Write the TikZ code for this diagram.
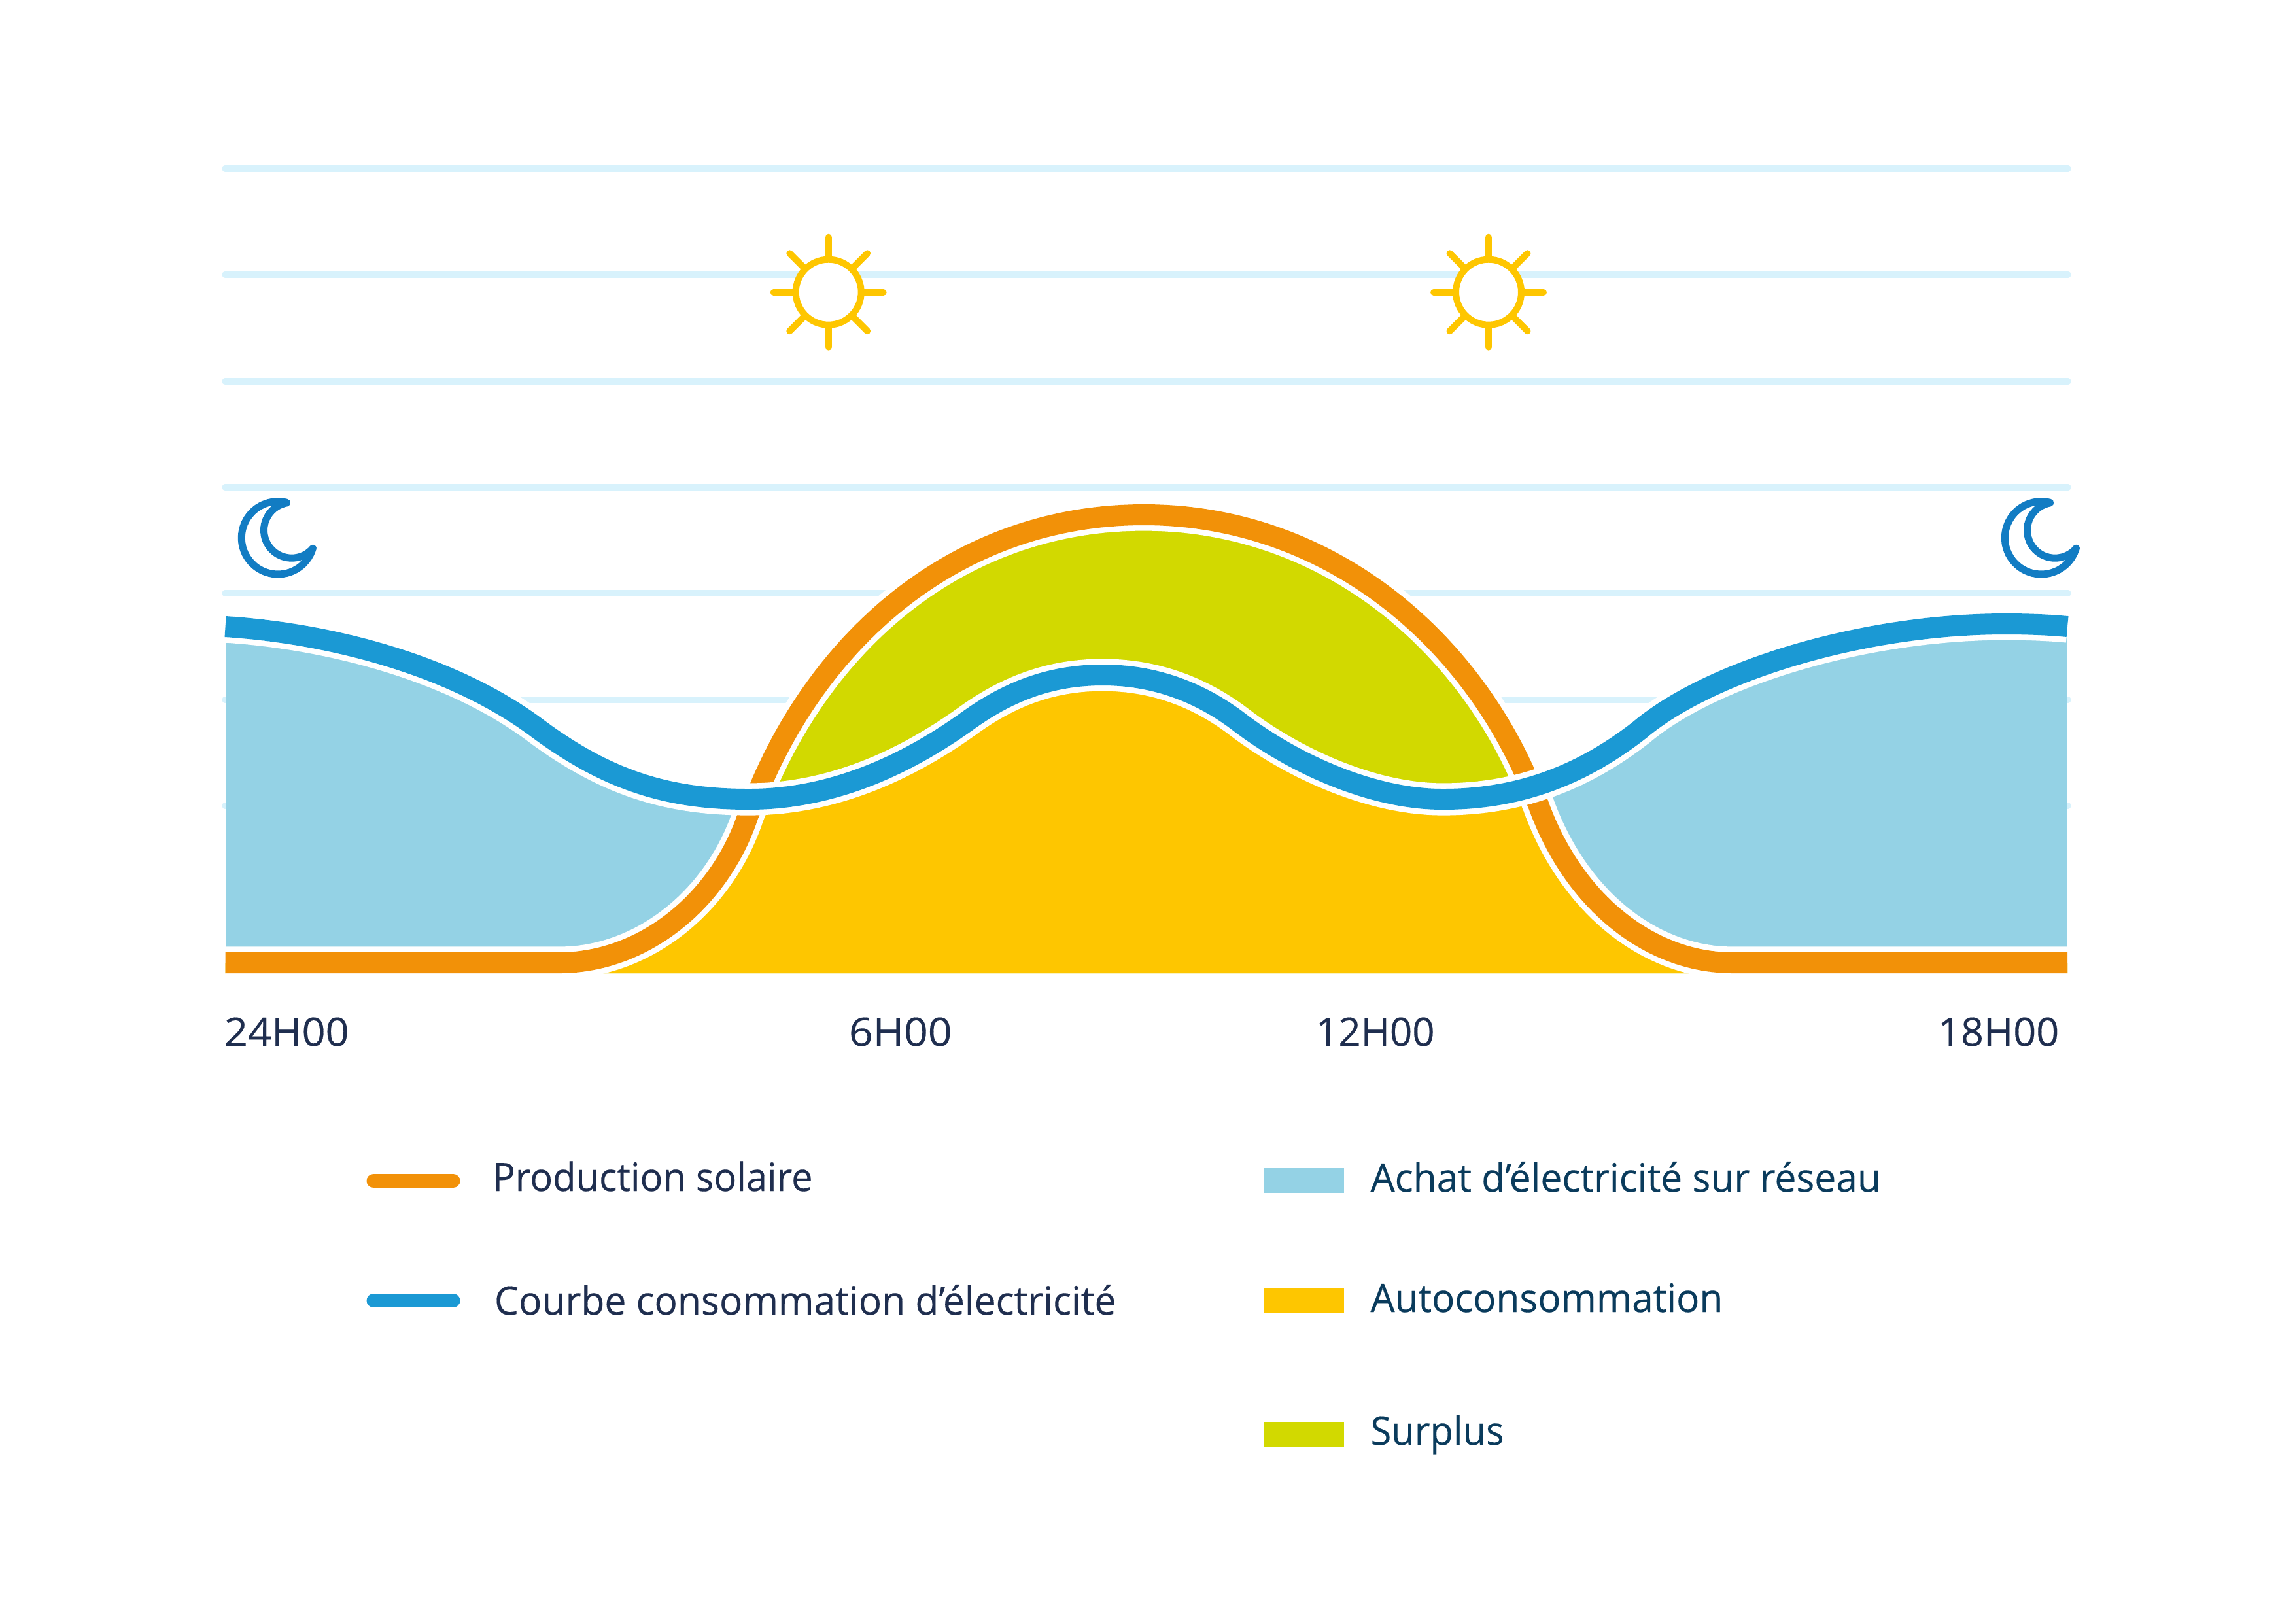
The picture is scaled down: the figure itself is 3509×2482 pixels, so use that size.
\documentclass[tikz,border=0pt]{standalone}
\usepackage{fontspec}
\setmainfont{Open Sans}[FakeBold=0.25]
\definecolor{cOrange}{HTML}{F29108}
\definecolor{cBlue}{HTML}{1B99D4}
\definecolor{cLight}{HTML}{94D2E5}
\definecolor{cYellow}{HTML}{FEC600}
\definecolor{cGreen}{HTML}{D2D900}
\definecolor{cGrid}{HTML}{D8F2FC}
\definecolor{cMoon}{HTML}{127CC3}
\definecolor{cText}{HTML}{1F2E4F}
\definecolor{cTextB}{HTML}{0A3B5C}
\def\orangecurve{(344.6,1472) -- (855,1472) .. controls (985,1472) and (1101,1376) .. (1144,1246) -- (1165,1196) .. controls (1269,957) and (1479,787) .. (1749,787) .. controls (2019,787) and (2238,962) .. (2338,1197) -- (2352,1230) .. controls (2406,1380) and (2524,1472) .. (2649,1472) -- (3161,1472)}
\def\bluecurve{(344.6,958) .. controls (500,968) and (690,1015) .. (821,1113) .. controls (931,1195) and (1025,1222) .. (1145,1222) .. controls (1280,1222) and (1395,1163) .. (1481,1101) .. controls (1545,1055) and (1610,1032) .. (1686,1032) .. controls (1765,1032) and (1835,1058) .. (1896,1105) .. controls (1975,1165) and (2095,1222) .. (2206,1222) .. controls (2330,1222) and (2425,1180) .. (2507,1116) .. controls (2615,1025) and (2850,954) .. (3066,954) .. controls (3110,954) and (3140,956) .. (3161,958)}
\tikzset{
  gridline/.style={cGrid,line width=2.2pt,line cap=round},
  halo/.style={white,line width=11.8pt},
  curve/.style={line width=7.68pt},
  sunstroke/.style={cYellow,line width=2.4pt,line cap=round},
  moonstroke/.style={cMoon,line width=2.64pt,line cap=round,line join=round},
  legline/.style={line width=5.04pt,line cap=round},
  lab/.style={anchor=base west,inner sep=0pt,outer sep=0pt,font=\fontsize{14.4pt}{17pt}\selectfont,text=cText},
  labB/.style={lab,text=cTextB},
  sunicon/.pic={
    \foreach \a in {0,45,...,315}
      \draw[sunstroke] ({50*cos(\a)},{50*sin(\a)}) -- ({84*cos(\a)},{84*sin(\a)});
    \draw[sunstroke,fill=white] (-50,0) .. controls (-50,-27.6) and (-27.6,-50) .. (0,-50) .. controls (27.6,-50) and (50,-27.6) .. (50,0) .. controls (50,27.6) and (27.6,50) .. (0,50) .. controls (-27.6,50) and (-50,27.6) .. (-50,0) -- cycle;
  },
  moonicon/.pic={
    \draw[moonstroke] plot[domain=-76:-343.3,samples=50] ({85+55.7*cos(\x)},{82.3+55.7*sin(\x)})
      -- plot[domain=40.5:260,samples=40] ({106+42.5*cos(\x)},{70.7+42.5*sin(\x)});
  }
}
\newcommand{\sx}[2]{\scalebox{#1}[1]{#2}}
\begin{document}
\begin{tikzpicture}[x=0.24pt,y=-0.24pt]
\useasboundingbox (0,0) rectangle (3509,2482);
\fill[white] (0,0) rectangle (3509,2482);
% grid
\foreach \yy in {258,420,583,745,907,1070,1232}
  \draw[gridline] (344,\yy) -- (3162,\yy);
% icons
\pic at (1266.7,446.7) {sunicon};
\pic at (2276,446.7) {sunicon};
\pic at (340,740) {moonicon};
\pic at (3036,740) {moonicon};
% fills
\fill[cGreen] \orangecurve -- (3161,1488) -- (344.6,1488) -- cycle;
\begin{scope}
  \clip \bluecurve -- (3161,1488) -- (344.6,1488) -- cycle;
  \fill[cLight] (344.6,900) rectangle (3161,1488);
  \fill[cYellow] \orangecurve -- (3161,1488) -- (344.6,1488) -- cycle;
\end{scope}
% curves
\draw[halo] \orangecurve;
\draw[curve,cOrange] \orangecurve;
\draw[halo] \bluecurve;
\draw[curve,cBlue] \bluecurve;
% axis labels
\node[lab] (t24) at (343,1599) {\sx{1.05}{24H00}};
\node[lab] (t6) at (1298,1599) {\sx{1.07}{6H00}};
\node[lab] (t12) at (2012,1599) {\sx{1.0}{12H00}};
\node[lab] (t18) at (2963,1599) {\sx{1.02}{18H00}};
% legend
\draw[legline,cOrange] (571,1805.5) -- (693,1805.5);
\draw[legline,cBlue] (571,1988.5) -- (693,1988.5);
\fill[cLight] (1932.7,1786.4) rectangle (2055,1824.2);
\fill[cYellow] (1932.7,1970) rectangle (2055,2007.5);
\fill[cGreen] (1932.7,2174.4) rectangle (2055,2212);
\node[lab] (lprod) at (753,1821) {\sx{0.963}{Production solaire}};
\node[lab] (lcons) at (756,2010) {\sx{0.978}{Courbe consommation d’électricité}};
\node[labB] (lachat) at (2095.5,1822) {\sx{0.978}{Achat d’électricité sur réseau}};
\node[labB] (lauto) at (2095.5,2006) {\sx{0.974}{Autoconsommation}};
\node[labB] (lsurp) at (2095.5,2209) {\sx{0.964}{Surplus}};
\end{tikzpicture}
\end{document}
